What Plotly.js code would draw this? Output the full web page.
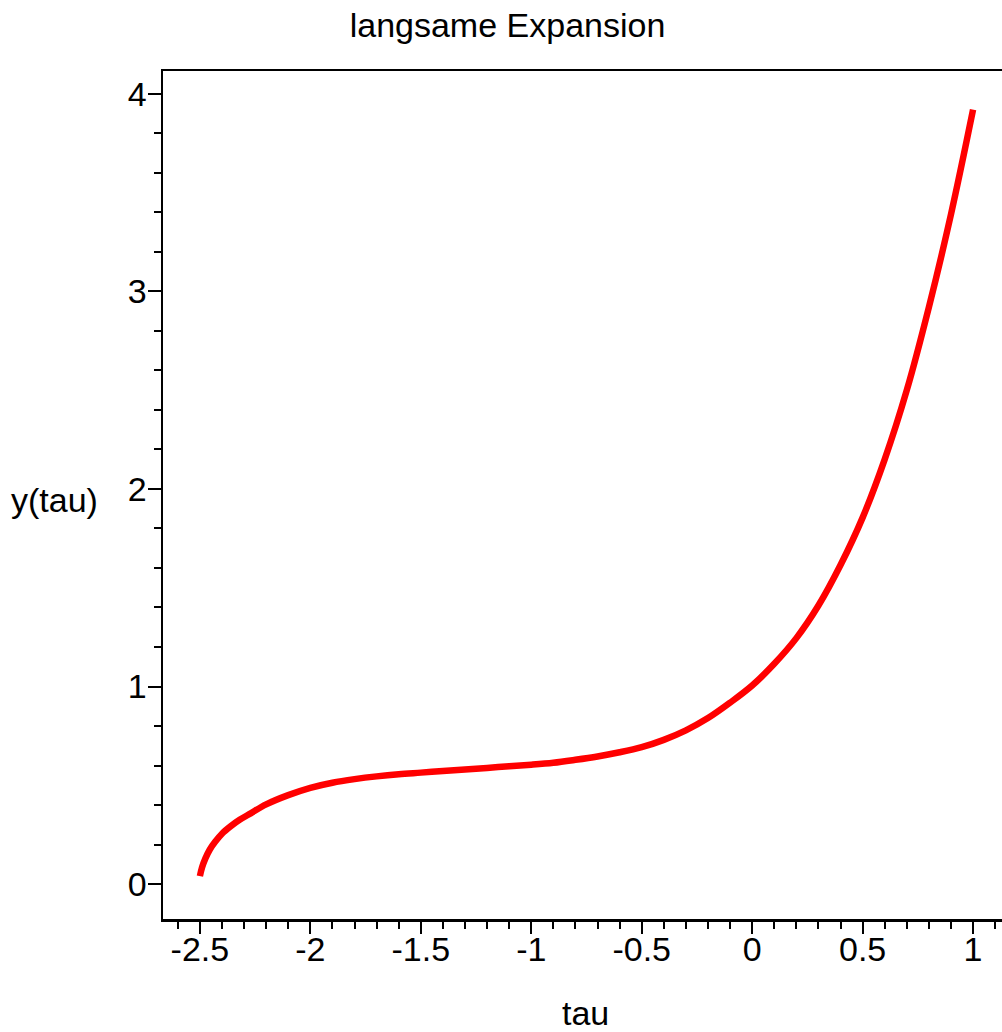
<!DOCTYPE html>
<html>
<head>
<meta charset="utf-8">
<script src="https://cdn.plot.ly/plotly-3.0.1.min.js"></script>
<style>html,body{margin:0;padding:0;background:#fff;}#chart{width:1002px;height:1032px;}</style>
</head>
<body>
<div id="chart"></div>
<script>
// Curve values
var tau = [-2.5, -2.49, -2.475, -2.455, -2.43, -2.4, -2.36, -2.32, -2.27, -2.2, -2.1, -2.0, -1.9, -1.8, -1.7, -1.6, -1.5, -1.4, -1.3, -1.2, -1.1, -1.0, -0.9, -0.8, -0.7, -0.6, -0.5, -0.4, -0.3, -0.2, -0.1, 0.0, 0.1, 0.2, 0.3, 0.4, 0.5, 0.6, 0.7, 0.8, 0.9, 1.0];
var yTau = [0.04, 0.085, 0.13, 0.175, 0.215, 0.255, 0.293, 0.325, 0.358, 0.403, 0.450, 0.487, 0.513, 0.531, 0.545, 0.556, 0.564, 0.572, 0.580, 0.588, 0.596, 0.604, 0.614, 0.629, 0.646, 0.667, 0.693, 0.730, 0.778, 0.840, 0.918, 1.005, 1.115, 1.245, 1.41, 1.615, 1.855, 2.15, 2.50, 2.92, 3.39, 3.92];

var xTickVals = [-2.5, -2, -1.5, -1, -0.5, 0, 0.5, 1];
var xTickText = ["-2.5", "-2", "-1.5", "-1", "-0.5", "0", "0.5", "1"];
var yTickVals = [0, 1, 2, 3, 4];
var yTickText = ["0", "1", "2", "3", "4"];

var titleText = "langsame Expansion";
var xLabel = "tau";
var yLabel = "y(tau)";

var fontFam = "Liberation Sans, Arial, sans-serif";
var fs = 34;

var trace = {
  x: tau, y: yTau, type: 'scatter', mode: 'lines',
  line: {color: '#ff0000', width: 6.5, shape: 'spline', smoothing: 1},
  hoverinfo: 'skip', showlegend: false
};

var layout = {
  width: 1002, height: 1032,
  paper_bgcolor: '#ffffff', plot_bgcolor: '#ffffff',
  margin: {l: 163, r: 0, t: 71, b: 113, pad: 0},
  font: {family: fontFam, size: fs, color: '#000'},
  title: {text: titleText, x: 0.5065, xref: 'container', xanchor: 'center', y: 0.976, yref: 'container', yanchor: 'middle', font: {family: fontFam, size: fs, color: '#000'}},
  xaxis: {
    range: [-2.667, 1.131], showgrid: false, zeroline: false,
    showline: true, linecolor: '#000', linewidth: 2.5, mirror: true,
    ticks: 'outside', ticklen: 12, tickwidth: 2, tickcolor: '#000',
    tickmode: 'array', tickvals: xTickVals, ticktext: xTickText,
    tickfont: {family: fontFam, size: fs, color: '#000'},
    ticklabelstandoff: -13,
    minor: {dtick: 0.1, tick0: 0, ticks: 'outside', ticklen: 7, tickwidth: 2, tickcolor: '#000', showgrid: false}
  },
  yaxis: {
    range: [-0.177, 4.116], showgrid: false, zeroline: false,
    showline: true, linecolor: '#000', linewidth: 2.5, mirror: false,
    ticks: 'outside', ticklen: 13, tickwidth: 2, tickcolor: '#000',
    tickmode: 'array', tickvals: yTickVals, ticktext: yTickText,
    tickfont: {family: fontFam, size: fs, color: '#000'},
    ticklabelstandoff: -6,
    minor: {dtick: 0.2, tick0: 0, ticks: 'outside', ticklen: 7, tickwidth: 2, tickcolor: '#000', showgrid: false}
  },
  annotations: [
    {text: yLabel, xref: 'paper', yref: 'paper', x: -0.1293, y: 0.494, xanchor: 'center', yanchor: 'middle', showarrow: false, font: {family: fontFam, size: fs, color: '#000'}},
    {text: xLabel, xref: 'paper', yref: 'paper', x: 0.504, y: -0.111, xanchor: 'center', yanchor: 'middle', showarrow: false, font: {family: fontFam, size: fs, color: '#000'}}
  ]
};

Plotly.newPlot('chart', [trace], layout, {displayModeBar: false, staticPlot: true});
</script>
</body>
</html>
